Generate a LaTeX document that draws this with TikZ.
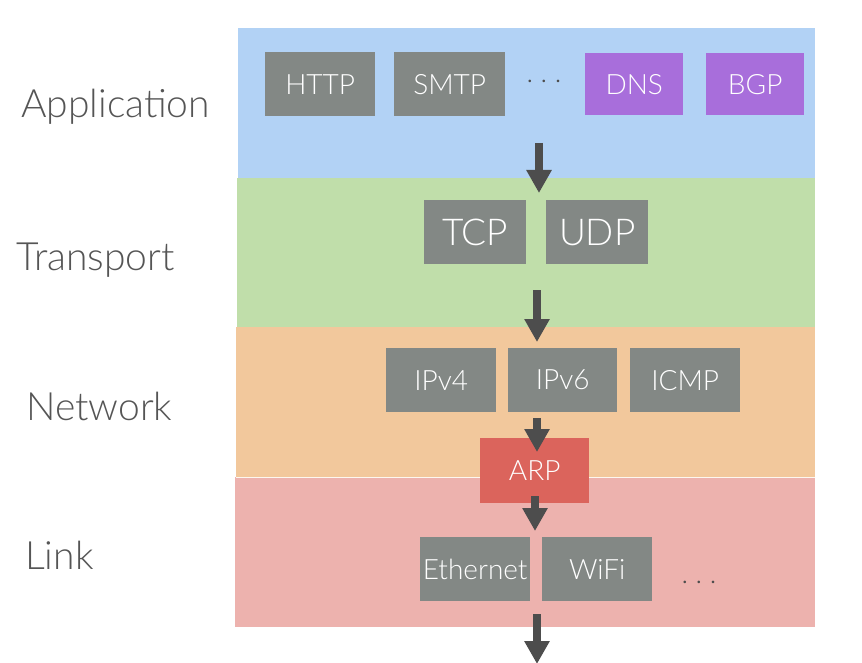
\documentclass[tikz,border=0pt]{standalone}
\usepackage{fontspec}
\IfFontExistsTF{Lato Light}{\setmainfont{Lato Light}}{\setmainfont{Lato}}
\usetikzlibrary{arrows.meta}
\definecolor{appc}{RGB}{178,210,245}
\definecolor{trc}{RGB}{192,222,170}
\definecolor{netc}{RGB}{242,200,156}
\definecolor{linkc}{RGB}{237,178,174}
\definecolor{boxg}{RGB}{131,136,133}
\definecolor{boxp}{RGB}{168,110,219}
\definecolor{boxr}{RGB}{219,100,92}
\definecolor{arrc}{RGB}{77,77,77}
\definecolor{labc}{RGB}{85,85,85}
\newcommand{\threedots}{\hbox{.\hspace{7.5pt}.\hspace{7.5pt}.}}
\begin{document}
\begin{tikzpicture}[x=1pt,y=-1pt,
  layer/.style={anchor=north west, inner sep=0, minimum height=150pt},
  pbox/.style={anchor=north west, inner sep=0, minimum width=110pt, minimum height=64pt, fill=boxg, text=white, font=\fontsize{28}{30}\selectfont},
  bigtext/.style={font=\fontsize{37}{40}\selectfont},
  lab/.style={anchor=base west, text=labc, font=\fontsize{39}{42}\selectfont, inner sep=0},
  dotsty/.style={anchor=base, text=arrc, font=\fontsize{28}{30}\selectfont, inner sep=0},
  flow/.style={draw=arrc, line width=7.5pt, -{Triangle[width=24pt,length=23pt]}}]
\useasboundingbox (0,0) rectangle (862,663);
% layers
\node[layer, fill=appc, minimum width=577pt] (lapp) at (238,28) {};
\node[layer, fill=trc, minimum width=578pt, minimum height=149pt] (ltr) at (237,178) {};
\node[layer, fill=netc, minimum width=579pt] (lnet) at (236,327) {};
\node[layer, fill=linkc, minimum width=580pt] (llink) at (235,477) {};
\draw[white!85!netc, line width=1pt] (lnet.south west) -- (lnet.south east);
% labels
\node[lab] (tapp) at (21,118) {Application};
\node[lab] (ttr) at (16,270) {Transport};
\node[lab] (tnet) at (26,420) {Network};
\node[lab] (tlink) at (25,569) {Link};
% application
\node[pbox] (http) at (265,52) {HTTP};
\node[pbox, minimum width=111pt] (smtp) at (394,52) {SMTP};
\node[dotsty] (adots) at (544,83) {\threedots};
\node[pbox, fill=boxp, minimum width=98pt, minimum height=62pt] (dns) at (585,53) {DNS};
\node[pbox, fill=boxp, minimum width=98pt, minimum height=62pt] (bgp) at (706,53) {BGP};
% transport
\node[pbox, bigtext, minimum width=102pt] (tcp) at (424,200) {TCP};
\node[pbox, bigtext, minimum width=102pt] (udp) at (546,200) {UDP};
% network
\node[pbox] (ipv4) at (386,348) {IPv4};
\node[pbox, minimum width=109pt] (ipv6) at (508,348) {IPv6};
\node[pbox] (icmp) at (630,348) {ICMP};
% arp
\node[pbox, fill=boxr, minimum width=109pt, minimum height=65pt] (arp) at (480,438) {ARP};
% link
\node[pbox] (eth) at (420,537) {Ethernet};
\node[pbox] (wifi) at (542,537) {WiFi};
\node[dotsty] (ldots) at (699,583) {\threedots};
% arrows
\coordinate (a1s) at (539,143); \coordinate (a1e) at (539,193);
\coordinate (a2s) at (537,290); \coordinate (a2e) at (537,342);
\coordinate (a3s) at (537,418); \coordinate (a3e) at (537,452);
\coordinate (a4s) at (535,496); \coordinate (a4e) at (535,531);
\coordinate (a5s) at (537,614); \coordinate (a5e) at (537,664);
\draw[flow] (a1s) -- (a1e);
\draw[flow] (a2s) -- (a2e);
\draw[flow] (a3s) -- (a3e);
\draw[flow] (a4s) -- (a4e);
\draw[flow] (a5s) -- (a5e);
\end{tikzpicture}
\end{document}
